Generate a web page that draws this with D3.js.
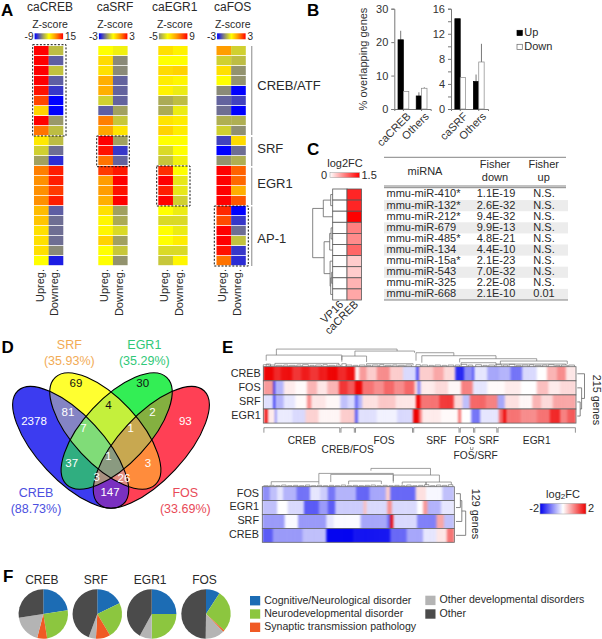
<!DOCTYPE html>
<html><head><meta charset="utf-8">
<script src="https://cdn.jsdelivr.net/npm/d3@7"></script>
<style>
html,body{margin:0;padding:0;background:#fff}
svg{display:block}
text{font-family:"Liberation Sans",Arial,sans-serif;fill:#2a2a2a}
</style></head><body><svg id="c" width="602" height="639"></svg>
<script>
// ---------- A: colour-bar level of each cell (0 = blue, .25 = grey, .5 = yellow, 1 = red)
const rowGroups = ["CREB/ATF","SRF","EGR1","AP-1"];
const caCREB_up   = [1,1,1,1,.97,.88,.6,1,.8,.55,.4,.3,.78,.75,.75,.75,.65,.63,.57,.57,.57,.5];
const caCREB_down = [.36,.17,.37,.17,.1,0,0,.28,.36,.36,.2,.08,.95,.95,.9,.95,.17,.2,.2,.2,.25,.05];
const caSRF_up    = [.5,.58,.57,.68,.68,.4,.17,.78,.7,1,.97,.8,.9,.72,.72,.68,.57,.52,.52,.6,.5,.5];
const caSRF_down  = [.47,.25,.25,.18,.18,.18,.3,.38,.56,.3,.1,.18,.96,1,.97,1,.3,.32,.42,.3,.38,.27];
const caEGR1_up   = [.57,.5,.58,.54,.53,.32,.32,.56,.6,.5,.42,.38,.92,1,.95,1,.5,.42,.5,.5,.42,.38];
const caEGR1_down = [.53,.5,.6,.52,.46,.36,.46,.54,.54,.5,.5,.47,.5,.45,.45,.4,.46,.42,.46,.54,.42,.52];
const caFOS_up    = [.72,.4,.57,.5,.25,.18,.2,.33,.4,.12,0,.27,1,1,1,1,.93,.87,1,1,.97,.8];
const caFOS_down  = [.4,.36,.27,.27,0,.12,0,.33,.26,.58,.2,.33,.83,.82,.68,.85,0,.1,.2,.37,.1,.08];
const panelNames  = ["caCREB","caSRF","caEGR1","caFOS"];
const panelRanges = [["-9","15"],["-3","3"],["-5","9"],["-3","3"]];
// ---------- B
const bGroupsL=["caCREB","Others"], bUpL=[20.7,3.9], bUpErrL=[23.4,5], bDownL=[5.2,6.2], bDownErrL=[5.2,6.5];
const bGroupsR=["caSRF","Others"],  bUpR=[14.4,4.4], bUpErrR=[14.4,5.5], bDownR=[5,7.5], bDownErrR=[5,10.4];
// ---------- C
const miRNA=["mmu-miR-410*","mmu-miR-132*","mmu-miR-212*","mmu-miR-679","mmu-miR-485*","mmu-miR-134","mmu-miR-15a*","mmu-miR-543","mmu-miR-325","mmu-miR-668"];
const fisherDown=["1.1E-19","2.6E-32","9.4E-32","9.9E-13","4.8E-21","4.4E-10","2.1E-23","7.0E-32","2.2E-08","2.1E-10"];
const fisherUp=["N.S.","N.S.","N.S.","N.S.","N.S.","N.S.","N.S.","N.S.","N.S.","0.01"];
const fcVP16=[0,0,0,0,0,0,0,0,0,0];
const fcCaCREB=[1.28,1.28,1.5,.75,.68,.9,.3,.3,.45,.52];
const cTree=[1,[.47,[.1,0,1],2],[.43,[.15,[.08,3,4],5],[.13,6,[.1,[.05,7,8],9]]]];
// ---------- D
const vennNames=["CREB","SRF","EGR1","FOS"], vennPct=["(88.73%)","(35.93%)","(35.29%)","(33.69%)"];
const vennCounts=[["69","S"],["30","E"],["2378","C"],["81","CS"],["4","SE"],["2","EF"],["93","F"],["7","CSE"],["1","SEF"],["37","CE"],["1","CSEF"],["3","SF"],["3","CEF"],["26","CSF"],["147","CF"]];
// ---------- E: [number of genes, level from -1 (log2FC -2) to 1 (log2FC 2)]
const e1CREB=[[7,1],[5,.85],[8,.95],[6,.8],[6,.9],[6,.8],[6,.9],[7,1],[6,.85],[6,.95],[3,.05],[5,.4],[7,.2],[9,.45],[9,.2],[9,-.15],[2,-.7],[10,.2],[7,.35],[8,.15],[6,-.85],[6,-.45],[1,-.8],[9,-.1],[8,-.35],[8,-.3],[8,-.55],[10,-.15],[7,0],[7,.3],[6,.45],[7,.1]];
const e1FOS=[[7,.4],[1,-.95],[6,-.3],[8,.08],[8,.02],[7,.3],[7,.1],[8,.3],[6,.8],[5,.65],[5,1],[8,.55],[7,.45],[7,.6],[7,.45],[7,.6],[2,.1],[2,-.5],[10,.08],[9,.15],[9,.03],[8,.5],[10,-.1],[12,.02],[11,.08],[11,0],[8,.25],[8,.08],[11,.15]];
const e1SRF=[[7,-.12],[1,-1],[6,-.3],[8,-.1],[8,.02],[3,.45],[10,.1],[10,.03],[5,-.25],[5,-.15],[2,-.6],[3,-.3],[11,.12],[12,.22],[14,.1],[3,1],[13,.55],[10,.78],[6,.15],[5,-.25],[11,.6],[8,.5],[5,-.35],[10,.12],[9,.03],[6,.3],[8,.15],[16,.35]];
const e1EGR1=[[1,.3],[2,1],[5,.08],[1,-.55],[11,-.08],[9,-.15],[9,.18],[15,.04],[10,.2],[2,-.65],[13,-.12],[14,-.05],[11,-.15],[4,1],[2,.5],[13,.08],[12,.02],[2,.55],[7,0],[6,-.55],[13,-.1],[3,.6],[2,.98],[10,.55],[11,.45],[9,.55],[7,.85],[5,.5],[6,.65]];
const e2FOS=[[5,-.45],[5,-.25],[4,-.1],[9,-.3],[9,-.55],[7,-.1],[5,-.2],[5,-.55],[14,-.3],[9,-.6],[11,-.35],[3,.2],[17,-.6],[7,.12],[11,-.03],[8,-.25]];
const e2EGR1=[[10,-.25],[7,0],[11,-.15],[10,-.65],[6,-.4],[5,-.65],[19,-.2],[2,.25],[14,-.15],[3,.45],[17,-.15],[4,0],[3,.4],[9,-.3],[9,-.1]];
const e2SRF=[[15,-.4],[9,-.02],[19,-.4],[5,-.1],[18,-.02],[18,-.35],[2,-.6],[2,1],[16,-.15],[13,-.5],[5,.35],[7,-.25]];
const e2CREB=[[7,-.65],[20,-.4],[16,-.25],[18,-1],[25,-.92],[11,-.6],[11,-.35],[9,-.1],[7,.1],[5,.55]];
const e1Names=["CREB","FOS","SRF","EGR1"], e2Names=["FOS","EGR1","SRF","CREB"];
const e1Tree=[1,0,[.6,1,[.4,2,3]]], e2Tree=[1,[.6,[.45,0,1],2],3];
// dendrogram links: [left gene, right gene, height, left drop, right drop]
const e1Links=[[9,92,53,35,47],[2,54,35,18,20],[63,104,47,32,42],[54,71,32,15,14],[105,131,42,18,33],[109,160,33,12,24],[135,188,24,13,17],[163,209,17,8,8],[8,52,10,4,5],[71,103,9,5,4],[160,208,8,4,5],[136,160,12,4,6]];
const e1Fine=[[0,4,6],[2,3,8],[5,3,5],[9,4,4],[14,3,5],[18,4,4],[23,3,5],[27,4,6],[32,3,4],[36,4,5],[41,3,6],[45,4,4],[50,3,5],[54,3,9],[57,4,5],[62,3,4],[66,4,5],[71,3,4],[75,4,5],[80,3,6],[84,4,4],[89,3,5],[93,4,4],[98,4,5],[105,3,6],[109,4,5],[114,3,4],[118,4,5],[123,3,4],[127,4,5],[132,3,5],[136,4,7],[141,3,5],[146,4,6],[151,3,4],[155,4,5],[160,4,6],[165,3,5],[169,4,7],[174,3,4],[178,4,5],[183,3,6],[187,4,4],[192,3,5],[196,4,6],[201,3,4],[205,4,5],[210,4,5]];
const e2Links=[[73,113,55,48,35],[38,88,40,15,37],[88,119,35,12,14],[46,88,37,14,17],[6,38,15,6,7],[58,80,17,7,8],[94,110,14,6,5],[110,127,14,5,6]];
const e2Fine=[[1,3,3],[5,3,4],[9,3,3],[13,3,5],[17,3,3],[21,3,4],[25,3,3],[29,3,5],[33,3,3],[37,3,4],[41,3,3],[45,3,4],[49,3,3],[53,3,5],[57,3,3],[61,3,4],[65,3,3],[69,3,4],[73,3,5],[77,3,3],[81,3,4],[85,3,3],[89,3,4],[93,3,3],[97,3,5],[101,3,3],[105,3,4],[109,3,6],[113,3,3],[117,3,5],[121,3,4],[125,3,6]];
const e1ClusterNames=["CREB","CREB/FOS","FOS","SRF","FOS","SRF","EGR1"];
const e1ClusterSizes=[53,10,40,32,10,16,54];
// ---------- F
const pieNames=["CREB","SRF","EGR1","FOS"];
const pieCognitive=[22.5,17.8,25,9.2], pieNeuro=[25,23.6,25,27.5], pieSynaptic=[6.5,9.5,0,1], pieOtherDev=[18.5,4.8,8,12.5], pieOther=[27.5,44.3,42,49.8];
const legendLabels=["Cognitive/Neurological disorder","Neurodevelopmental disorder","Synaptic transmission pathology","Other developmental disorders","Other"];
const pieColors=["#1c6cb4","#8cc63f","#f05a24","#b4b4b4","#4b4b4b"];

const svg=d3.select("#c"), defs=svg.append("defs");
function txt(p,x,y,s,size,o={}){const t=p.append("text").attr("x",x).attr("y",y).attr("font-size",size).attr("text-anchor",o.a||"start").attr("dominant-baseline",o.b||"middle").text(s);
 if(o.w)t.attr("font-weight",o.w); if(o.c)t.style("fill",o.c); if(o.r!==undefined)t.attr("transform",`rotate(${o.r},${x},${y})`); return t;}
[["A",1,15.5],["B",307,15.5],["C",307,155],["D",1.5,353],["E",222,353],["F",3,582]].forEach(d=>txt(svg,d[1],d[2],d[0],17,{w:"bold",b:"auto"}).style("fill","#000"));

// horizontal smoothing of the expression strips, like the soft source image
const sm=defs.append("filter").attr("id","soft").attr("x",0).attr("y",0).attr("width",1).attr("height",1).attr("color-interpolation-filters","sRGB");
sm.append("feGaussianBlur").attr("stdDeviation","0.9 0").attr("edgeMode","duplicate");

// ===== A
const gA=svg.append("g");
const levelColor=d3.scaleLinear().domain([0,.25,.5,.75,1]).range(["#0000ff","#8a8a78","#ffff00","#ff9000","#ff0000"]);
const rowsA=d3.scaleBand().domain(d3.range(22)).range([46,266]);
const panelData=[[caCREB_up,caCREB_down],[caSRF_up,caSRF_down],[caEGR1_up,caEGR1_down],[caFOS_up,caFOS_down]];
const panelX=[34,98.3,158.3,216.5], panelCx=[50,115,174.7,232.7], barStart=[0,0,.27,0];
const dotted=[[32.7,44.7,33.3,91.3],[96.7,136,32.6,30.7],[156.7,166,33.3,40],[214.3,206,34,60]];
panelNames.forEach((n,i)=>{
  const x=d3.scaleBand().domain([0,1]).range([panelX[i],panelX[i]+29.3]);
  panelData[i].forEach((col,c)=>gA.selectAll(null).data(col).join("rect")
    .attr("x",x(c)).attr("width",x.bandwidth()+(c?0:.2)).attr("y",(d,r)=>rowsA(r)).attr("height",9.2).attr("fill",d=>levelColor(d)));
  txt(gA,panelCx[i],7.5,n,12,{a:"middle"});
  txt(gA,panelCx[i],25.3,"Z-score",10.5,{a:"middle"});
  const id="zb"+i, g=defs.append("linearGradient").attr("id",id);
  d3.range(0,1.01,.1).forEach(s=>g.append("stop").attr("offset",s).attr("stop-color",levelColor(barStart[i]+s*(1-barStart[i]))));
  gA.append("rect").attr("x",panelX[i]+.6).attr("y",33.3).attr("width",28.5).attr("height",6).attr("fill",`url(#${id})`);
  txt(gA,panelX[i]-.5,37.5,panelRanges[i][0],10,{a:"end"});
  txt(gA,panelX[i]+31,37.5,panelRanges[i][1],10);
  ["Upreg.","Downreg."].forEach((s,c)=>txt(gA,x(c)+x.bandwidth()/2-.5,269,s,11,{a:"end",r:-90}));
  const db=dotted[i];
  gA.append("rect").attr("x",db[0]).attr("y",db[1]).attr("width",db[2]).attr("height",db[3]).attr("fill","none").attr("stroke","#111").attr("stroke-width",1).attr("stroke-dasharray","2,1.6");
});
const groupSpan=[[46,135,87],[137,166,150],[167.7,205,185],[206.5,266,240]];
rowGroups.forEach((n,i)=>{
  gA.append("line").attr("x1",251.7).attr("x2",251.7).attr("y1",groupSpan[i][0]).attr("y2",groupSpan[i][1]).attr("stroke","#aaa").attr("stroke-width",1.4);
  txt(gA,257.3,groupSpan[i][2],n,13);
});

// ===== B
function bars(groups,up,upE,down,downE,x0,x1,ymax,major,minor){
  const g=svg.append("g");
  const xb=d3.scaleBand().domain(groups).range([x0,x1]);
  const y=d3.scaleLinear().domain([0,ymax]).range([109,8.7]);
  const sub=d3.scaleBand().domain(["u","d"]).range([0,10.8]);
  const off=xb.bandwidth()/2-5.4;
  const ax=d3.axisLeft(y).tickValues(minor).tickSize(3).tickFormat(d=>major.includes(d)?d:"");
  const ag=g.append("g").attr("transform",`translate(${x0},0)`).call(ax);
  ag.selectAll("text").attr("font-size",11).attr("font-family","Liberation Sans").style("fill","#333");
  ag.selectAll("line,path").attr("stroke","#777");
  const bx=d3.axisBottom(xb).tickSize(2).tickFormat(d=>d);
  const bg=g.append("g").attr("transform","translate(0,109)").call(bx);
  bg.selectAll("line,path").attr("stroke","#777");
  bg.selectAll("text").attr("font-size",11).style("fill","#333").attr("text-anchor","end").attr("dy",0).attr("y",0).attr("dominant-baseline","middle")
    .attr("transform","translate(6,6) rotate(-45)");
  groups.forEach((n,i)=>{
    const X=xb(n)+off;
    [[up,upE,"u","#000"],[down,downE,"d","#fff"]].forEach(s=>{
      const v=s[0][i],e=s[1][i],bxx=X+sub(s[2]);
      if(e>v)g.append("line").attr("x1",bxx+2.7).attr("x2",bxx+2.7).attr("y1",y(v)).attr("y2",y(e)).attr("stroke","#555").attr("stroke-width",.8);
      g.append("rect").attr("x",bxx).attr("width",sub.bandwidth()).attr("y",y(v)).attr("height",y(0)-y(v)).attr("fill",s[3]).attr("stroke",s[3]=="#000"?"#000":"#888").attr("stroke-width",.7);
    });
  });
}
bars(bGroupsL,bUpL,bUpErrL,bDownL,bDownErrL,394.3,430.7,30,[0,10,20,30],[0,10,20,30]);
bars(bGroupsR,bUpR,bUpErrR,bDownR,bDownErrR,451,488,16,[0,4,8,12,16],[0,2,4,6,8,10,12,14,16]);
txt(svg,364,59,"% overlapping genes",11,{a:"middle",r:-90,c:"#333"});
[["Up","#000",33],["Down","#fff",47]].forEach(d=>{
  svg.append("rect").attr("x",517).attr("y",d[2]-2.7).attr("width",5.3).attr("height",5.3).attr("fill",d[1]).attr("stroke",d[1]=="#000"?"#000":"#666").attr("stroke-width",.7);
  txt(svg,524.3,d[2]+.3,d[0],11);
});

// ===== C
const gC=svg.append("g");
const rowsC=d3.scaleBand().domain(d3.range(10)).range([189,300]);
const fcColor=d3.scaleLinear().domain([0,1.5]).range(["#ffffff","#ff0000"]);
[[fcVP16,332.7],[fcCaCREB,347]].forEach(s=>gC.selectAll(null).data(s[0]).join("rect")
  .attr("x",s[1]).attr("width",14.4).attr("y",(d,i)=>rowsC(i)).attr("height",rowsC.bandwidth()).attr("fill",d=>fcColor(d)).attr("stroke","#555").attr("stroke-width",.8));
txt(gC,345,164,"log2FC",11,{a:"middle"});
const gc=defs.append("linearGradient").attr("id","fcb");
[0,1].forEach(o=>gc.append("stop").attr("offset",o).attr("stop-color",fcColor(o*1.5)));
gC.append("rect").attr("x",330).attr("y",172.7).attr("width",29.5).attr("height",5).attr("fill","url(#fcb)").attr("stroke","#999").attr("stroke-width",.5);
txt(gC,327,176,"0",11,{a:"end"}); txt(gC,361.5,176,"1.5",11);
["VP16","caCREB"].forEach((n,i)=>txt(gC,[342,357][i],303,n,11,{a:"end",r:-45}));
function tree(p,node,pos,hs){
  if(typeof node==="number") return {p:pos(node),q:hs(0)};
  const a=tree(p,node[1],pos,hs), b=tree(p,node[2],pos,hs), q=hs(node[0]);
  const pts=[[a.q,a.p],[q,a.p],[q,b.p],[b.q,b.p]];
  p.append("path").attr("d",d3.line()(pts)).attr("fill","none").attr("stroke","#666").attr("stroke-width",.8);
  return {p:(a.p+b.p)/2,q};
}
tree(gC,cTree,i=>rowsC(i)+rowsC.bandwidth()/2,d3.scaleLinear().domain([0,1]).range([332.7,312.7]));
rowsC.domain().forEach(i=>{
  if(i%2)gC.append("rect").attr("x",384).attr("width",184).attr("y",rowsC(i)).attr("height",rowsC.bandwidth()).attr("fill","#ececec");
  const y=rowsC(i)+rowsC.bandwidth()/2;
  txt(gC,386.5,y,miRNA[i],11); txt(gC,496,y,fisherDown[i],11,{a:"middle"}); txt(gC,544,y,fisherUp[i],11,{a:"middle"});
});
[[157.3],[186],[187.7],[300]].forEach(d=>gC.append("line").attr("x1",384).attr("x2",d[0]==300?568:566).attr("y1",d[0]).attr("y2",d[0]).attr("stroke","#777").attr("stroke-width",.9));
txt(gC,425,172,"miRNA",11,{a:"middle"});
txt(gC,495,165,"Fisher",11,{a:"middle"}); txt(gC,495,178,"down",11,{a:"middle"});
txt(gC,543.7,165,"Fisher",11,{a:"middle"}); txt(gC,543.7,178,"up",11,{a:"middle"});

// ===== D
const gD=svg.append("g");
const Zx=z=>z/3, Zy=z=>330+z/3;
const ell={C:[212,352,232,98,47],F:[454,352,232,98,-47],S:[316,303,220,98,47],E:[350,303,220,98,-47]};
const baseCol={C:"#3c3cf0",S:"#ffff30",E:"#33ee55",F:"#ff4055"};
const mixCol={CS:"#8484c4",SE:"#c4f03c",EF:"#84b040",CE:"#30ae80",SF:"#ff8c3c",CF:"#7a30c0",CSE:"#80dc78",SEF:"#c8a850",CEF:"#a89080",CSF:"#e08c80",CSEF:"#8a9a80"};
function ellipse(p,k){const e=ell[k];return p.append("ellipse").attr("rx",e[2]/3).attr("ry",e[3]/3).attr("transform",`translate(${Zx(e[0])},${Zy(e[1])}) rotate(${e[4]})`);}
Object.keys(ell).forEach(k=>{ellipse(defs.append("clipPath").attr("id","v"+k),k);});
["C","F","S","E"].forEach(k=>ellipse(gD,k).attr("fill",baseCol[k]));
Object.keys(mixCol).forEach(s=>{let p=gD;const ks=s.split("");ks.slice(1).forEach(k=>{p=p.append("g").attr("clip-path",`url(#v${k})`);});ellipse(p,ks[0]).attr("fill",mixCol[s]);});
Object.keys(ell).forEach(k=>ellipse(gD,k).attr("fill","none").attr("stroke","#000").attr("stroke-width",1.1));
const vennLabelPos=[[228,163],[428,162],[102,275],[204,248],[325,229],[457,248],[556,275],[250,298],[392,298],[215,402],[325,380],[444,402],[290,445],[372,447],[330,490]];
vennCounts.forEach((d,i)=>{const dark=["S","E","SE"].includes(d[1]);txt(gD,Zx(vennLabelPos[i][0]),Zy(vennLabelPos[i][1]),d[0],11.5,{a:"middle",c:dark?"#111":"#fff"});});
const vennTitle=[[108,490,"#4c50e0"],[208,47,"#f2ab55"],[433,47,"#30c878"],[556,490,"#e84a58"]];
vennNames.forEach((n,i)=>{const t=vennTitle[i];txt(gD,Zx(t[0]),Zy(t[1]),n,12.5,{a:"middle",c:t[2]});txt(gD,Zx(t[0]),Zy(t[1]+48),vennPct[i],12.5,{a:"middle",c:t[2]});});

// ===== E
const gE=svg.append("g");
const eColor=d3.scaleLinear().domain([-1,0,1]).range(["#0000f0","#ffffff","#ee0000"]);
const expand=r=>r.flatMap(d=>d3.range(d[0]).map(()=>d[1]));
function heat(rows,names,x0,x1,top,rowH,n,treeDef,tx0,tx1,labelX){
  const x=d3.scaleLinear().domain([0,n]).range([x0,x1]);
  const y=d3.scaleBand().domain(names.map((d,i)=>i)).range([top,top+rowH*names.length]);
  rows.forEach((r,i)=>{
    gE.append("g").attr("filter","url(#soft)").selectAll("rect").data(expand(r)).join("rect").attr("x",(d,j)=>x(j)).attr("width",(d,j)=>j==n-1?x(1)-x(0):x(1)-x(0)+.5).attr("y",y(i)).attr("height",y.bandwidth()).attr("fill",d=>eColor(d));
    gE.append("rect").attr("x",x0).attr("y",y(i)).attr("width",x1-x0).attr("height",y.bandwidth()).attr("fill","none").attr("stroke","#666").attr("stroke-width",.8);
    txt(gE,labelX,y(i)+y.bandwidth()/2,names[i],10.8,{a:"end"});
  });
  tree(gE,treeDef,i=>y(i)+y.bandwidth()/2,d3.scaleLinear().domain([0,1]).range([tx0,tx1]));
  return x;
}
function dendro(x,links,fine,top,maxPx){
  const h=d3.scaleLinear().domain([0,55]).range([top,top-maxPx]);
  const lg=gE.append("g").attr("fill","none").attr("stroke","#777").attr("stroke-width",.7);
  links.forEach(l=>lg.append("path").attr("d",d3.line()([[x(l[0]),h(l[3])],[x(l[0]),h(l[2])],[x(l[1]),h(l[2])],[x(l[1]),h(l[4])]])));
  fine.forEach(f=>lg.append("path").attr("d",d3.line()([[x(f[0]),h(0)],[x(f[0]),h(f[2])],[x(f[0]+f[1]),h(f[2])],[x(f[0]+f[1]),h(0)]])));
}
const xE1=heat([e1CREB,e1FOS,e1SRF,e1EGR1],e1Names,263.3,576,366.7,14.1,215,e1Tree,577.3,584.5,260.7);
dendro(xE1,e1Links,e1Fine,366.7,18.3);
const xE2=heat([e2FOS,e2EGR1,e2SRF,e2CREB],e2Names,262.3,454.3,486.7,13.9,129,e2Tree,456,465.7,259);
dendro(xE2,e2Links,e2Fine,486.7,18.3);
txt(gE,595.5,400,"215 genes",10.8,{a:"middle",r:90});
txt(gE,475,514,"129 genes",10.8,{a:"middle",r:90});
let acc=0; const gap=.6;
const clusterY=[441,450.7,441,441,441,441,441], clusterDx=[0,0,0,0,-2,3,0];
e1ClusterNames.forEach((n,i)=>{
  const a=xE1(acc)+gap, b=xE1(acc+e1ClusterSizes[i])-gap; acc+=e1ClusterSizes[i];
  gE.append("path").attr("d",d3.line()([[a,432.7],[a,427.7],[b,427.7],[b,432.7]])).attr("fill","none").attr("stroke","#666").attr("stroke-width",.7);
  txt(gE,(a+b)/2+clusterDx[i],clusterY[i],n,10.2,{a:"middle"});
});
txt(gE,475.7,456,"FOS/SRF",10.2,{a:"middle"});
gE.append("path").attr("d",d3.line()([[470.5,447],[470.5,449.5],[473,449.5],[473,447]])).attr("fill","none").attr("stroke","#666").attr("stroke-width",.6);
const lf=txt(gE,563,495,"log",11,{a:"middle"});
lf.append("tspan").attr("font-size",8).attr("dy",2).text("2");
lf.append("tspan").attr("dy",-2).text("FC");
const ge=defs.append("linearGradient").attr("id","eb");
[-1,-.5,0,.5,1].forEach(v=>ge.append("stop").attr("offset",(v+1)/2).attr("stop-color",eColor(v)));
gE.append("rect").attr("x",540).attr("y",503.3).attr("width",46).attr("height",10.7).attr("fill","url(#eb)").attr("stroke","#aaa").attr("stroke-width",.6);
txt(gE,539,509.5,"-2",11,{a:"end"}); txt(gE,588,509.5,"2",11);

// ===== F
const gF=svg.append("g");
const pie=d3.pie().sort(null).value(d=>d), arc=d3.arc().innerRadius(0).outerRadius(24.7);
const pieCx=[43.3,97.3,151.7,206];
pieNames.forEach((n,i)=>{
  const vals=[pieCognitive[i],pieNeuro[i],pieSynaptic[i],pieOtherDev[i],pieOther[i]];
  gF.append("g").attr("transform",`translate(${pieCx[i]},614)`).selectAll("path").data(pie(vals)).join("path").attr("d",arc).attr("fill",(d,j)=>pieColors[j]);
  txt(gF,pieCx[i]-1.5,580.5,n,12,{a:"middle"});
});
legendLabels.forEach((s,i)=>{
  const x=i<3?250:425.3, yy=i<3?600.7+13.3*i:600.4+13.6*(i-3);
  gF.append("rect").attr("x",x).attr("y",yy-4.7).attr("width",10.2).attr("height",9.4).attr("fill",pieColors[i]);
  txt(gF,x+14.2,yy+.3,s,10.6);
});
</script></body></html>
